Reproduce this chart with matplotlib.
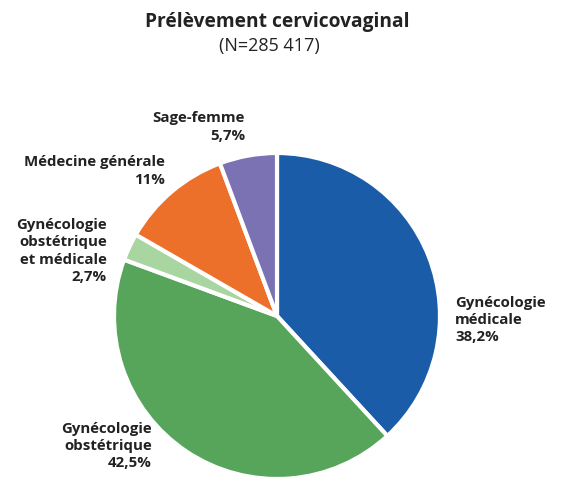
import matplotlib.pyplot as plt

plt.rcParams['font.family'] = ['Open Sans', 'DejaVu Sans']

# data
categories = ['Gynécologie médicale', 'Gynécologie obstétrique',
              'Gynécologie obstétrique et médicale', 'Médecine générale', 'Sage-femme']
shares = [38.2, 42.5, 2.7, 11.0, 5.7]
share_labels = ['38,2%', '42,5%', '2,7%', '11%', '5,7%']
colors = ['#1a5ca8', '#56a55a', '#a8d5a0', '#ec7029', '#7b72b3']

W, H = 570, 479
fig = plt.figure(figsize=(W / 100, H / 100), dpi=100)

# pie axes: centre (277, 316) px, radius 163 px
cx, cy, r = 277, 316, 163
ax = fig.add_axes([(cx - r) / W, (H - cy - r) / H, 2 * r / W, 2 * r / H])
ax.pie(shares, colors=colors, startangle=90, counterclock=False,
       wedgeprops=dict(edgecolor='white', linewidth=3), radius=1)
ax.set_xlim(-1, 1)
ax.set_ylim(-1, 1)
ax.set_aspect('equal')
ax.axis('off')


def px(x, y):
    return x / W, 1 - y / H


fig.text(*px(277, 22), 'Prélèvement cervicovaginal', ha='center', va='center',
         fontsize=13.8, fontweight='bold', color='#222222')
fig.text(*px(269, 46), '(N=285 417)', ha='center', va='center',
         fontsize=13, color='#222222')

label_style = dict(fontsize=10.8, fontweight='bold', color='#222222', linespacing=1.3)
fig.text(*px(455, 320), 'Gynécologie\nmédicale\n' + share_labels[0],
         ha='left', va='center', **label_style)
fig.text(*px(152, 446), 'Gynécologie\nobstétrique\n' + share_labels[1],
         ha='right', va='center', **label_style)
fig.text(*px(107, 251), 'Gynécologie\nobstétrique\net médicale\n' + share_labels[2],
         ha='right', va='center', **label_style)
fig.text(*px(165, 171), 'Médecine générale\n' + share_labels[3],
         ha='right', va='center', **label_style)
fig.text(*px(245, 127), 'Sage-femme\n' + share_labels[4],
         ha='right', va='center', **label_style)

fig.savefig('out.png', dpi=100, facecolor='white')
